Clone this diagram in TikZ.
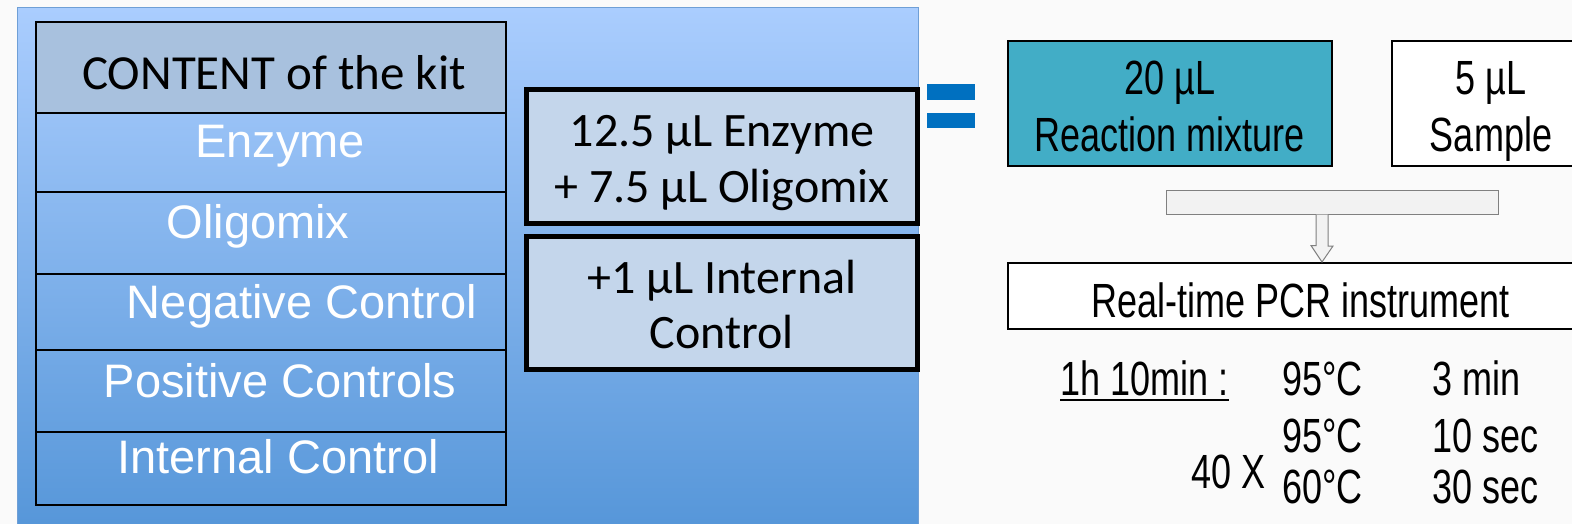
\documentclass[tikz,border=0pt]{standalone}
\usepackage{fontspec}
\setmainfont{Liberation Sans}
\newfontfamily\calibri{Carlito}
\newfontfamily\narrow{Liberation Sans}[FakeStretch=0.75]
\usetikzlibrary{calc}
\definecolor{pageBg}{HTML}{FAFAFA}
\definecolor{panelTop}{HTML}{AACDFE}
\definecolor{panelBot}{HTML}{5495D8}
\definecolor{panelEdge}{HTML}{6F9FD6}
\definecolor{headFill}{HTML}{A8C1DE}
\definecolor{mixFill}{HTML}{C4D6EB}
\definecolor{eqBlue}{HTML}{0070C0}
\definecolor{reactFill}{HTML}{42ADC6}
\definecolor{barFill}{HTML}{F2F2F2}
\begin{document}
\begin{tikzpicture}[x=1pt,y=-1pt,
    kitrow/.style={draw,line width=2pt,minimum width=470,inner sep=0},
    kittext/.style={anchor=base,text=white,font=\fontsize{47}{50}\selectfont,inner sep=0},
    mixbox/.style={draw,line width=5pt,fill=mixFill,minimum width=391,inner sep=0},
    mixtext/.style={anchor=base,font=\calibri\fontsize{48}{50}\selectfont,inner sep=0},
    pcrbox/.style={draw,line width=2pt,inner sep=0},
    pcrtext/.style={anchor=base,font=\narrow\fontsize{48}{50}\selectfont,inner sep=0},
    runtext/.style={anchor=base west,font=\narrow\fontsize{48}{50}\selectfont,inner sep=0}]
    \useasboundingbox (0,0) rectangle (1572,524);
    \fill[pageBg] (0,0) rectangle (1572,524);
    \shade[top color=panelTop,bottom color=panelBot,draw=panelEdge,line width=1pt] (17,8) rectangle (918,540);
    % kit table
    \node[kitrow,fill=headFill,minimum height=91] (rowhead) at (271,67.5) {};
    \node[mixtext,font=\calibri\fontsize{49}{50}\selectfont] (lblhead) at (274,90) {CONTENT of the kit};
    \foreach \nm/\yc/\ht/\tx/\by/\lbl in {enz/152.5/79/280/158/Enzyme,
        oli/233/82/258/238/Oligomix,
        neg/312/76/302/318/Negative Control,
        pos/391/82/280/397/Positive Controls,
        ic/468.5/73/278/473/Internal Control}
    {
    \node[kitrow,minimum height=\ht] (row\nm) at (271,\yc) {};
    \node[kittext] (lbl\nm) at (\tx,\by) {\lbl};
    }
    % mixes
    \node[mixbox,minimum height=134] (mixone) at (722,156.5) {};
    \node[mixtext] (mixoneA) at (722,147) {12.5 µL Enzyme};
    \node[mixtext] (mixoneB) at (722,202) {+ 7.5 µL Oligomix};
    \node[mixbox,minimum height=133] (mixtwo) at (722,303) {};
    \node[mixtext] (mixtwoA) at (722,293) {+1 µL Internal};
    \node[mixtext] (mixtwoB) at (722,348) {Control};
    \fill[eqBlue] (927,84) rectangle (975,100);
    \fill[eqBlue] (927,113) rectangle (975,128);
    % reaction
    \node[pcrbox,fill=reactFill,minimum width=324,minimum height=125] (react) at (1170,103.5) {};
    \node[pcrtext] (reactA) at (1170,95) {20 µL};
    \node[pcrtext] (reactB) at (1170,152) {Reaction mixture};
    \node[pcrbox,fill=white,minimum width=195,minimum height=125] (sample) at (1489.5,103.5) {};
    \node[pcrtext] (sampleA) at (1491,95) {5 µL};
    \node[pcrtext] (sampleB) at (1491,152) {Sample};
    \node[draw=gray,fill=barFill,line width=1pt,minimum width=332,minimum height=24,inner sep=0] (bar) at (1332,202) {};
    \node[pcrbox,fill=white,minimum width=586,minimum height=66] (pcr) at (1301,296) {};
    \node[pcrtext] (pcrA) at (1301,317) {Real-time PCR instrument};
    \coordinate (atop) at ($(bar.south)+(-10,0)$);
    \draw[draw=gray,fill=barFill,line width=1pt] ($(atop)+(-6,0)$) -- ++(0,31) -- ++(-5,0)
        -- (atop |- pcr.north) -- ++(11,-16) -- ++(-5,0) -- ($(atop)+(6,0)$);
    % program
    \node[runtext] (runtime) at (1060,395) {1h 10min :};
    \draw[line width=2pt] ($(runtime.base west)+(0,5)$) -- ($(runtime.base east)+(0,5)$);
    \node[runtext] (tempA) at (1282,395) {95°C};
    \node[runtext] (timeA) at (1432,395) {3 min};
    \node[runtext] (tempB) at (1282,452) {95°C};
    \node[runtext] (timeB) at (1432,452) {10 sec};
    \node[runtext] (tempC) at (1282,503) {60°C};
    \node[runtext] (timeC) at (1432,503) {30 sec};
    \node[runtext,anchor=base east] (cycles) at (1266,488) {40 X};
\end{tikzpicture}
\end{document}
